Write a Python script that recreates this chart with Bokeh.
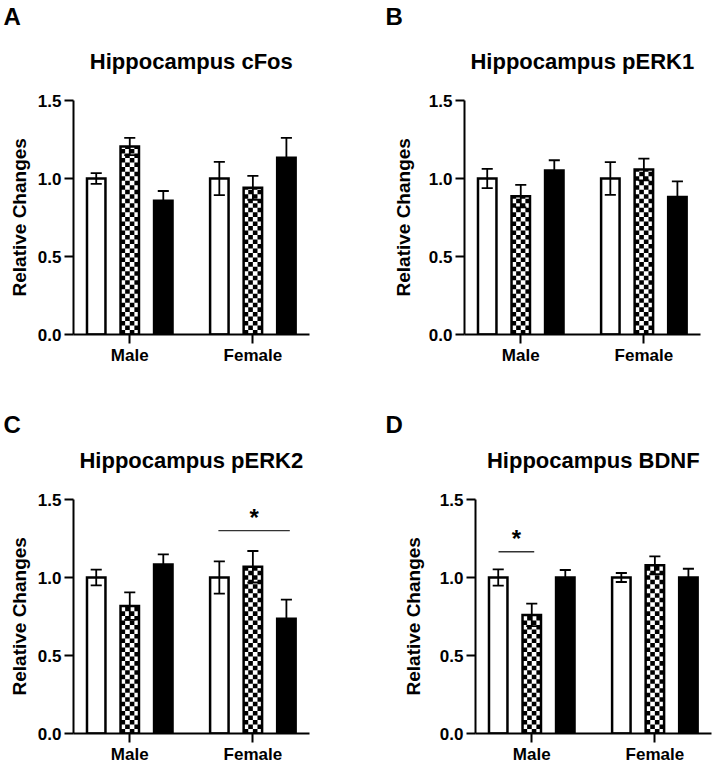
import math
from bokeh.plotting import figure
from bokeh.layouts import row, column
from bokeh.models import Range1d, FixedTicker, NumeralTickFormatter, Label, Title
from bokeh.embed import file_html
from bokeh.resources import INLINE

# ---------------- data ----------------
groups = ["Male", "Female"]
group_x = [1, 2]
y_ticks = [0.0, 0.5, 1.0, 1.5]
series = ["open", "checkered", "filled"]
y_label = "Relative Changes"

titles = ["Hippocampus cFos", "Hippocampus pERK1", "Hippocampus pERK2", "Hippocampus BDNF"]
letters = ["A", "B", "C", "D"]

cfos_male = [1.00, 1.205, 0.857]
cfos_male_err = [0.035, 0.055, 0.063]
cfos_female = [1.00, 0.94, 1.133]
cfos_female_err = [0.107, 0.077, 0.127]

perk1_male = [1.00, 0.887, 1.051]
perk1_male_err = [0.062, 0.072, 0.066]
perk1_female = [1.00, 1.058, 0.882]
perk1_female_err = [0.105, 0.070, 0.099]

perk2_male = [1.00, 0.817, 1.084]
perk2_male_err = [0.050, 0.088, 0.064]
perk2_female = [1.00, 1.069, 0.736]
perk2_female_err = [0.104, 0.101, 0.122]

bdnf_male = [1.00, 0.760, 1.000]
bdnf_male_err = [0.052, 0.072, 0.048]
bdnf_female = [1.00, 1.078, 1.000]
bdnf_female_err = [0.029, 0.057, 0.056]

# significance brackets: (x start, x end, y)
sig_perk2 = [1.72, 2.30, 1.30]
sig_bdnf = [0.73, 1.02, 1.165]

# ---------------- style ----------------
FONT = "Liberation Sans"
OFFS = [-0.2724, 0.0, 0.2724]
BAR_W = 0.15
CAP_HALF = 0.045
N_CELL_COLS = 4
CELL_H = 0.029
PX_PER_UNIT = 156.0
TITLE_Y = 1.749
STAR_GAP = 0.085


def make_panel(letter, title, male, male_err, female, female_err, sig,
               bl, br, bt, bb, fh, letter_offset, ylab_standoff):
    p = figure(frame_width=236, frame_height=fh,
               x_range=Range1d(0.543, 2.46),
               y_range=Range1d(0, fh / PX_PER_UNIT),
               output_backend="svg", toolbar_location=None, tools="",
               min_border_left=bl, min_border_right=br,
               min_border_top=bt, min_border_bottom=bb)
    p.outline_line_color = None
    p.grid.visible = False

    vals = [male, female]
    errs = [male_err, female_err]
    for gi, gx in enumerate(group_x):
        for si in range(3):
            x = gx + OFFS[si]
            v = vals[gi][si]
            left, right = x - BAR_W / 2, x + BAR_W / 2
            if si == 0:
                p.quad(left=[left], right=[right], bottom=[0], top=[v],
                       fill_color="white", line_color="black", line_width=2.5,
                       line_join="miter")
            elif si == 1:
                p.quad(left=[left], right=[right], bottom=[0], top=[v],
                       fill_color="white", line_color=None)
                cw = BAR_W / N_CELL_COLS
                L, R, B, T = [], [], [], []
                nrows = int(math.ceil(v / CELL_H))
                for r in range(nrows):
                    b = r * CELL_H
                    t = min((r + 1) * CELL_H, v)
                    for c in range(N_CELL_COLS):
                        if (r + c) % 2 == 0:
                            L.append(left + c * cw)
                            R.append(left + (c + 1) * cw)
                            B.append(b)
                            T.append(t)
                p.quad(left=L, right=R, bottom=B, top=T, fill_color="black",
                       line_color=None)
                p.quad(left=[left], right=[right], bottom=[0], top=[v],
                       fill_color=None, line_color="black", line_width=2.5,
                       line_join="miter")
            else:
                p.quad(left=[left], right=[right], bottom=[0], top=[v],
                       fill_color="black", line_color="black", line_width=2.5,
                       line_join="miter")
            e = errs[gi][si]
            p.segment(x0=[x], y0=[v - e], x1=[x], y1=[v + e],
                      line_color="black", line_width=1.8)
            p.segment(x0=[x - CAP_HALF, x - CAP_HALF], y0=[v + e, v - e],
                      x1=[x + CAP_HALF, x + CAP_HALF], y1=[v + e, v - e],
                      line_color="black", line_width=1.8)

    if sig is not None:
        p.segment(x0=[sig[0]], y0=[sig[2]], x1=[sig[1]], y1=[sig[2]],
                  line_color="#333333", line_width=1.3)
        p.add_layout(Label(x=(sig[0] + sig[1]) / 2, y=sig[2] + STAR_GAP, text="*",
                           text_align="center", text_baseline="middle",
                           text_font=FONT, text_font_size="24px",
                           text_font_style="bold", text_color="black"))

    # axes
    p.xaxis.ticker = FixedTicker(ticks=group_x)
    p.xaxis.major_label_overrides = {gx: g for gx, g in zip(group_x, groups)}
    p.yaxis.ticker = FixedTicker(ticks=y_ticks)
    p.yaxis.bounds = (y_ticks[0], y_ticks[-1])
    p.yaxis.formatter = NumeralTickFormatter(format="0.0")
    for ax in (p.xaxis[0], p.yaxis[0]):
        ax.axis_line_width = 2
        ax.axis_line_color = "black"
        ax.major_tick_line_width = 2
        ax.major_tick_line_color = "black"
        ax.major_tick_in = 0
        ax.minor_tick_line_color = None
        ax.major_label_text_font = FONT
        ax.major_label_text_font_style = "bold"
        ax.major_label_text_color = "black"
        ax.major_label_text_font_size = "17px"
    p.xaxis.major_tick_out = 9
    p.xaxis.major_label_standoff = 2
    p.yaxis.major_tick_out = 9
    p.yaxis.major_label_standoff = 3

    # y-axis title, placed alongside the bounded axis (0 .. 1.5)
    p.add_layout(Title(text=y_label, align="left", offset=38,
                       standoff=ylab_standoff, vertical_align="bottom",
                       text_font=FONT, text_font_size="19px",
                       text_font_style="bold", text_color="black"), "left")

    # chart title inside the (extended) frame
    p.add_layout(Label(x=1.5, y=TITLE_Y, text=title, text_align="center",
                       text_baseline="middle", text_font=FONT,
                       text_font_size="22px", text_font_style="bold",
                       text_color="black"))
    # panel letter
    p.title.text = letter
    p.title.align = "left"
    p.title.offset = letter_offset
    p.title.standoff = 0
    p.title.vertical_align = "bottom"
    p.title.text_font = FONT
    p.title.text_font_size = "24px"
    p.title.text_font_style = "bold"
    p.title.text_color = "black"
    return p


pA = make_panel(letters[0], titles[0], cfos_male, cfos_male_err, cfos_female,
                cfos_female_err, None, 73, 48, 28, 48, 305, -70, 9)
pB = make_panel(letters[1], titles[1], perk1_male, perk1_male_err, perk1_female,
                perk1_female_err, None, 107, 13, 28, 48, 305, -79, 24)
pC = make_panel(letters[2], titles[2], perk2_male, perk2_male_err, perk2_female,
                perk2_female_err, sig_perk2, 73, 48, 55, 31, 296, -70, 9)
pD = make_panel(letters[3], titles[3], bdnf_male, bdnf_male_err, bdnf_female,
                bdnf_female_err, sig_bdnf, 118, 2, 55, 31, 296, -90, 25)

layout = column(row(pA, pB), row(pC, pD))
open("out.html", "w").write(file_html(layout, INLINE))
